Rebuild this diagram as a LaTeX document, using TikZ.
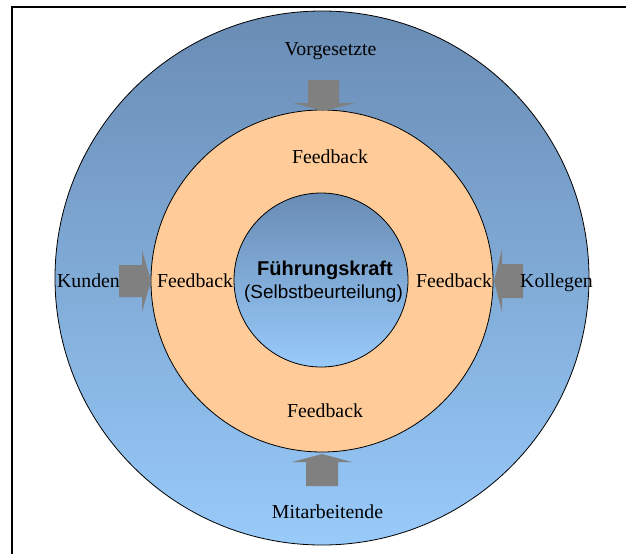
\documentclass[tikz,border=0pt]{standalone}
\usepackage{fontspec}
\setmainfont{Liberation Serif}
\newfontfamily\arialfont{Liberation Sans}
\definecolor{bluetop}{RGB}{105,140,180}
\definecolor{bluebot}{RGB}{152,202,250}
\definecolor{peach}{RGB}{255,204,153}
\definecolor{arrowgray}{RGB}{128,128,128}
\begin{document}
\begin{tikzpicture}[x=1pt,y=-1pt,
  ring/.style={draw=black, line width=0.8pt},
  lbl/.style={anchor=base, inner sep=0pt, font=\fontsize{19.8}{22}\selectfont},
  blockarrow/.style={fill=arrowgray, draw=none}]
\useasboundingbox (0,0) rectangle (626,554);
\fill[white] (0,0) rectangle (626,554);
\draw[line width=2pt, black] (11.5,554) -- (11.5,6.5) -- (626,6.5);
% rings
\shade[ring, top color=bluetop, bottom color=bluebot] (322,278) circle[radius=267];
\filldraw[ring, fill=peach] (322,281) circle[radius=171];
\shade[ring, top color=bluetop, bottom color=bluebot] (321,280) circle[radius=87];
% block arrows
\fill[blockarrow] (308,80) -- (339,80) -- (339,103) -- (355,103) -- (323,111) -- (293,103) -- (308,103) -- cycle;
\fill[blockarrow] (306,486) -- (338,486) -- (338,462) -- (352,462) -- (322,454) -- (292,462) -- (306,462) -- cycle;
\fill[blockarrow] (119,265) -- (142,265) -- (142,250) -- (151,281) -- (142,312) -- (142,297) -- (119,297) -- cycle;
\fill[blockarrow] (523,264) -- (502,264) -- (502,249) -- (494,281) -- (502,312) -- (502,298) -- (523,298) -- cycle;
% labels
\node[lbl] (vor) at (330.5,55) {Vorgesetzte};
\node[lbl] (fbt) at (330,163) {Feedback};
\node[lbl] (fbb) at (325,417) {Feedback};
\node[lbl] (mit) at (327.5,518) {Mitarbeitende};
\node[lbl] (kun) at (88.5,287) {Kunden};
\node[lbl] (fbl) at (195,287) {Feedback};
\node[lbl] (fbr) at (454,287) {Feedback};
\node[lbl] (kol) at (556.5,287) {Kollegen};
\node[anchor=base, inner sep=0pt, font=\arialfont\bfseries\fontsize{20}{22}\selectfont] (fk) at (325,275) {Führungskraft};
\node[anchor=base, inner sep=0pt, font=\arialfont\fontsize{18.9}{22}\selectfont] (sb) at (323.5,298) {(Selbstbeurteilung)};
\end{tikzpicture}
\end{document}
